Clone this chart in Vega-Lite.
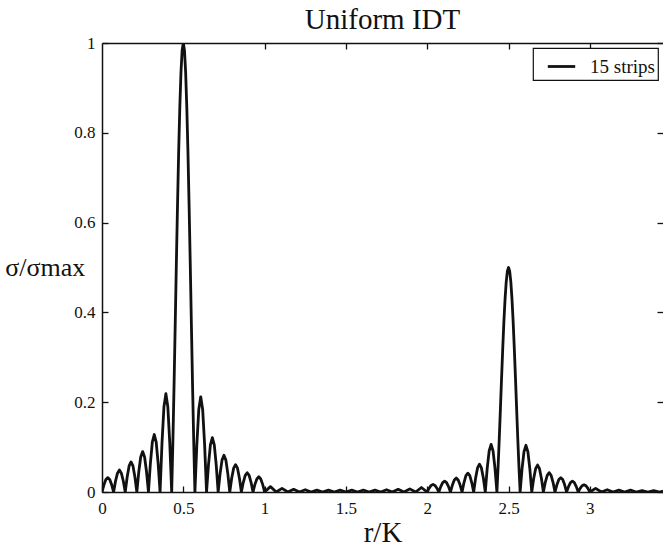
{
  "$schema": "https://vega.github.io/schema/vega-lite/v6.json",
  "width": 561,
  "height": 449,
  "autosize": {"type": "none"},
  "padding": {"left": 102, "top": 43, "right": 0, "bottom": 56},
  "background": "white",
  "config": {
    "view": {"stroke": null},
    "font": "Liberation Serif",
    "axis": {
      "grid": false,
      "domainColor": "#111",
      "domainWidth": 1.5,
      "tickColor": "#111",
      "tickWidth": 1.3,
      "tickSize": -6,
      "labelFont": "Liberation Serif",
      "labelFontSize": 17,
      "labelColor": "#111",
      "titleFont": "Liberation Serif",
      "titleFontWeight": "normal",
      "titleColor": "#111"
    },
    "legend": {
      "orient": "top-right",
      "offset": 5,
      "strokeColor": "#111",
      "strokeWidth": 1.2,
      "fillColor": "white",
      "padding": 3,
      "labelFont": "Liberation Serif",
      "labelFontSize": 19,
      "labelColor": "#111",
      "labelOffset": 13,
      "symbolOffset": 10,
      "symbolType": "stroke",
      "symbolStrokeWidth": 2.8,
      "symbolSize": 750,
      "title": null
    }
  },
  "title": {
    "text": "Uniform IDT",
    "font": "Liberation Serif",
    "fontSize": 29,
    "fontWeight": "normal",
    "color": "#111",
    "anchor": "middle",
    "offset": 4,
    "dy": 5
  },
  "data": {
    "values": [
      {"x": 0, "y": 0}, {"x": 0.0119, "y": 0.016}, {"x": 0.0238, "y": 0.028}, {"x": 0.0357, "y": 0.032}, {"x": 0.0476, "y": 0.028}, {"x": 0.0595, "y": 0.016},
      {"x": 0.0714, "y": 0}, {"x": 0.0833, "y": 0.0245}, {"x": 0.0952, "y": 0.042}, {"x": 0.1071, "y": 0.049}, {"x": 0.119, "y": 0.042}, {"x": 0.131, "y": 0.0245},
      {"x": 0.1429, "y": 0}, {"x": 0.1548, "y": 0.0335}, {"x": 0.1667, "y": 0.058}, {"x": 0.1786, "y": 0.067}, {"x": 0.1905, "y": 0.058}, {"x": 0.2024, "y": 0.0335},
      {"x": 0.2143, "y": 0}, {"x": 0.2262, "y": 0.045}, {"x": 0.2381, "y": 0.078}, {"x": 0.25, "y": 0.09}, {"x": 0.2619, "y": 0.078}, {"x": 0.2738, "y": 0.045},
      {"x": 0.2857, "y": 0}, {"x": 0.2976, "y": 0.064}, {"x": 0.3095, "y": 0.111}, {"x": 0.3214, "y": 0.128}, {"x": 0.3333, "y": 0.111}, {"x": 0.3452, "y": 0.064},
      {"x": 0.3571, "y": 0}, {"x": 0.369, "y": 0.1095}, {"x": 0.381, "y": 0.19}, {"x": 0.3929, "y": 0.219}, {"x": 0.4048, "y": 0.19}, {"x": 0.4167, "y": 0.1095},
      {"x": 0.4286, "y": 0}, {"x": 0.4357, "y": 0.109}, {"x": 0.4429, "y": 0.234}, {"x": 0.45, "y": 0.368}, {"x": 0.4571, "y": 0.505}, {"x": 0.4643, "y": 0.637}, {"x": 0.4714, "y": 0.757}, {"x": 0.4786, "y": 0.858}, {"x": 0.4857, "y": 0.935}, {"x": 0.4929, "y": 0.984}, {"x": 0.5, "y": 1},
      {"x": 0.5071, "y": 0.984}, {"x": 0.5143, "y": 0.935}, {"x": 0.5214, "y": 0.858}, {"x": 0.5286, "y": 0.757}, {"x": 0.5357, "y": 0.637}, {"x": 0.5429, "y": 0.505}, {"x": 0.55, "y": 0.368}, {"x": 0.5571, "y": 0.234}, {"x": 0.5643, "y": 0.109}, {"x": 0.5714, "y": 0},
      {"x": 0.5833, "y": 0.106}, {"x": 0.5952, "y": 0.184}, {"x": 0.6071, "y": 0.212}, {"x": 0.619, "y": 0.184}, {"x": 0.631, "y": 0.106}, {"x": 0.6429, "y": 0},
      {"x": 0.6548, "y": 0.0605}, {"x": 0.6667, "y": 0.105}, {"x": 0.6786, "y": 0.121}, {"x": 0.6905, "y": 0.105}, {"x": 0.7024, "y": 0.0605}, {"x": 0.7143, "y": 0},
      {"x": 0.7262, "y": 0.041}, {"x": 0.7381, "y": 0.071}, {"x": 0.75, "y": 0.082}, {"x": 0.7619, "y": 0.071}, {"x": 0.7738, "y": 0.041}, {"x": 0.7857, "y": 0},
      {"x": 0.7976, "y": 0.0305}, {"x": 0.8095, "y": 0.053}, {"x": 0.8214, "y": 0.061}, {"x": 0.8333, "y": 0.053}, {"x": 0.8452, "y": 0.0305}, {"x": 0.8571, "y": 0},
      {"x": 0.869, "y": 0.0215}, {"x": 0.881, "y": 0.037}, {"x": 0.8929, "y": 0.043}, {"x": 0.9048, "y": 0.037}, {"x": 0.9167, "y": 0.0215}, {"x": 0.9286, "y": 0},
      {"x": 0.9405, "y": 0.017}, {"x": 0.9524, "y": 0.029}, {"x": 0.9643, "y": 0.034}, {"x": 0.9762, "y": 0.029}, {"x": 0.9881, "y": 0.017}, {"x": 1.0, "y": 0},
      {"x": 1.0357, "y": 0.012}, {"x": 1.0714, "y": 0}, {"x": 1.1071, "y": 0.008}, {"x": 1.1429, "y": 0}, {"x": 1.1786, "y": 0.006}, {"x": 1.2143, "y": 0},
      {"x": 1.25, "y": 0.005}, {"x": 1.2857, "y": 0}, {"x": 1.3214, "y": 0.004}, {"x": 1.3571, "y": 0}, {"x": 1.3929, "y": 0.004}, {"x": 1.4286, "y": 0},
      {"x": 1.4643, "y": 0.004}, {"x": 1.5, "y": 0}, {"x": 1.5357, "y": 0.004}, {"x": 1.5714, "y": 0}, {"x": 1.6071, "y": 0.004}, {"x": 1.6429, "y": 0},
      {"x": 1.6786, "y": 0.004}, {"x": 1.7143, "y": 0}, {"x": 1.75, "y": 0.005}, {"x": 1.7857, "y": 0}, {"x": 1.8214, "y": 0.006}, {"x": 1.8571, "y": 0},
      {"x": 1.8929, "y": 0.007}, {"x": 1.9286, "y": 0}, {"x": 1.9643, "y": 0.01},
      {"x": 2.0, "y": 0}, {"x": 2.0119, "y": 0.0085}, {"x": 2.0238, "y": 0.0147}, {"x": 2.0357, "y": 0.017}, {"x": 2.0476, "y": 0.0147}, {"x": 2.0595, "y": 0.0085},
      {"x": 2.0714, "y": 0}, {"x": 2.0833, "y": 0.012}, {"x": 2.0952, "y": 0.0208}, {"x": 2.1071, "y": 0.024}, {"x": 2.119, "y": 0.0208}, {"x": 2.131, "y": 0.012},
      {"x": 2.1429, "y": 0}, {"x": 2.1548, "y": 0.0155}, {"x": 2.1667, "y": 0.0268}, {"x": 2.1786, "y": 0.031}, {"x": 2.1905, "y": 0.0268}, {"x": 2.2024, "y": 0.0155},
      {"x": 2.2143, "y": 0}, {"x": 2.2262, "y": 0.021}, {"x": 2.2381, "y": 0.0364}, {"x": 2.25, "y": 0.042}, {"x": 2.2619, "y": 0.0364}, {"x": 2.2738, "y": 0.021},
      {"x": 2.2857, "y": 0}, {"x": 2.2976, "y": 0.031}, {"x": 2.3095, "y": 0.0537}, {"x": 2.3214, "y": 0.062}, {"x": 2.3333, "y": 0.0537}, {"x": 2.3452, "y": 0.031},
      {"x": 2.3571, "y": 0}, {"x": 2.369, "y": 0.053}, {"x": 2.381, "y": 0.0918}, {"x": 2.3929, "y": 0.106}, {"x": 2.4048, "y": 0.0918}, {"x": 2.4167, "y": 0.053},
      {"x": 2.4286, "y": 0}, {"x": 2.4357, "y": 0.0545}, {"x": 2.4429, "y": 0.117}, {"x": 2.45, "y": 0.184}, {"x": 2.4571, "y": 0.2525}, {"x": 2.4643, "y": 0.3185}, {"x": 2.4714, "y": 0.3785}, {"x": 2.4786, "y": 0.429}, {"x": 2.4857, "y": 0.4675}, {"x": 2.4929, "y": 0.492}, {"x": 2.5, "y": 0.5},
      {"x": 2.5071, "y": 0.492}, {"x": 2.5143, "y": 0.4675}, {"x": 2.5214, "y": 0.429}, {"x": 2.5286, "y": 0.3785}, {"x": 2.5357, "y": 0.3185}, {"x": 2.5429, "y": 0.2525}, {"x": 2.55, "y": 0.184}, {"x": 2.5571, "y": 0.117}, {"x": 2.5643, "y": 0.0545}, {"x": 2.5714, "y": 0},
      {"x": 2.5833, "y": 0.052}, {"x": 2.5952, "y": 0.09}, {"x": 2.6071, "y": 0.104}, {"x": 2.619, "y": 0.09}, {"x": 2.631, "y": 0.052}, {"x": 2.6429, "y": 0},
      {"x": 2.6548, "y": 0.03}, {"x": 2.6667, "y": 0.052}, {"x": 2.6786, "y": 0.06}, {"x": 2.6905, "y": 0.052}, {"x": 2.7024, "y": 0.03}, {"x": 2.7143, "y": 0},
      {"x": 2.7262, "y": 0.0215}, {"x": 2.7381, "y": 0.0372}, {"x": 2.75, "y": 0.043}, {"x": 2.7619, "y": 0.0372}, {"x": 2.7738, "y": 0.0215}, {"x": 2.7857, "y": 0},
      {"x": 2.7976, "y": 0.016}, {"x": 2.8095, "y": 0.0277}, {"x": 2.8214, "y": 0.032}, {"x": 2.8333, "y": 0.0277}, {"x": 2.8452, "y": 0.016}, {"x": 2.8571, "y": 0},
      {"x": 2.869, "y": 0.012}, {"x": 2.881, "y": 0.0208}, {"x": 2.8929, "y": 0.024}, {"x": 2.9048, "y": 0.0208}, {"x": 2.9167, "y": 0.012}, {"x": 2.9286, "y": 0},
      {"x": 2.9405, "y": 0.008}, {"x": 2.9524, "y": 0.0139}, {"x": 2.9643, "y": 0.016}, {"x": 2.9762, "y": 0.0139}, {"x": 2.9881, "y": 0.008}, {"x": 3.0, "y": 0},
      {"x": 3.0357, "y": 0.008}, {"x": 3.0714, "y": 0}, {"x": 3.1071, "y": 0.005}, {"x": 3.1429, "y": 0}, {"x": 3.1786, "y": 0.004}, {"x": 3.2143, "y": 0},
      {"x": 3.25, "y": 0.004}, {"x": 3.2857, "y": 0}, {"x": 3.3214, "y": 0.003}, {"x": 3.3571, "y": 0}, {"x": 3.3929, "y": 0.003}, {"x": 3.4286, "y": 0}, {"x": 3.45, "y": 0.002}
    ]
  },
  "layer": [
    {
      "mark": {"type": "line", "strokeWidth": 2.8, "clip": true, "strokeJoin": "round"},
      "encoding": {
        "x": {
          "field": "x", "type": "quantitative",
          "scale": {"domain": [0, 3.45], "nice": false, "zero": false},
          "axis": {"orient": "bottom", "values": [0, 0.5, 1, 1.5, 2, 2.5, 3], "labelExpr": "datum.value", "labelPadding": 14, "title": "r/K", "titleFontSize": 29, "titlePadding": 2, "labelFlush": false}
        },
        "y": {
          "field": "y", "type": "quantitative",
          "scale": {"domain": [0, 1], "nice": false},
          "axis": {"orient": "left", "values": [0, 0.2, 0.4, 0.6, 0.8, 1], "labelExpr": "datum.value", "labelPadding": 13, "title": "σ/σmax", "titleAngle": 0, "titleFontSize": 26, "titlePadding": 29, "titleBaseline": "middle", "labelFlush": false}
        },
        "color": {"datum": "15 strips", "type": "nominal", "scale": {"range": ["#111111"]}, "legend": {"title": null}}
      }
    },
    {
      "mark": {"type": "line", "opacity": 0},
      "encoding": {
        "x": {"field": "x", "type": "quantitative", "axis": {"orient": "top", "values": [0.5, 1, 1.5, 2, 2.5, 3], "labels": false, "title": null}},
        "y": {"field": "y", "type": "quantitative", "axis": {"orient": "right", "values": [0, 0.2, 0.4, 0.6, 0.8, 1], "labels": false, "title": null, "domain": false}}
      }
    }
  ],
  "resolve": {"axis": {"x": "independent", "y": "independent"}}
}
